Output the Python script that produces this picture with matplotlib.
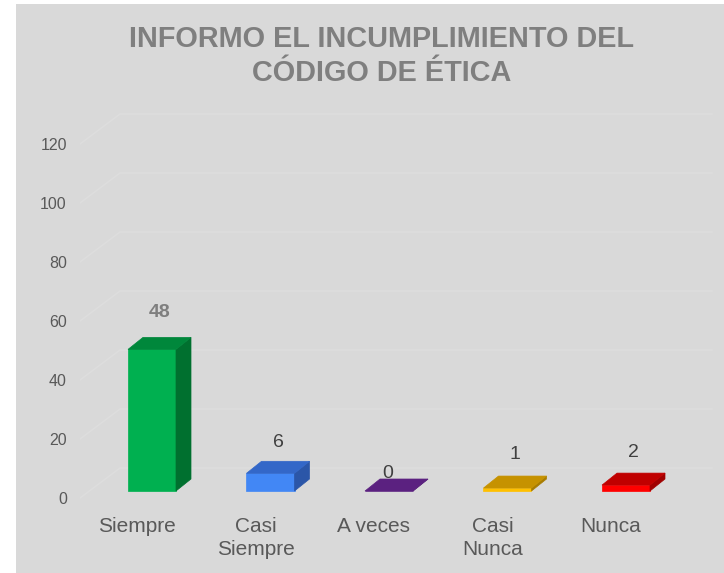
import matplotlib.pyplot as plt
from matplotlib.patches import Polygon, Rectangle

categories = ['Siempre', 'Casi\nSiempre', 'A veces', 'Casi\nNunca', 'Nunca']
values = [48, 6, 0, 1, 2]
yticks = [0, 20, 40, 60, 80, 100, 120]
title = 'INFORMO EL INCUMPLIMIENTO DEL\nCÓDIGO DE ÉTICA'

# front / top / side colours of each column
front_colors = ['#00b050', '#4287f5', '#5b2180', '#ffc000', '#ff0000']
top_colors = ['#00873b', '#3367c8', '#5b2180', '#c69200', '#c00000']
side_colors = ['#00702f', '#2b56a8', '#4a1a6a', '#a87c00', '#a00000']

# label nudges in pixels (dx, dy above the back top edge)
label_offsets = [(0, 25), (0, 19), (-9, 6), (0, 22), (0, 21)]

plt.rcParams['font.family'] = ['Liberation Sans', 'DejaVu Sans']

PX_CAT = 118.5   # pixels per category
PX_VAL = 2.95    # pixels per value unit
px_x = lambda p: p / PX_CAT
px_y = lambda p: p / PX_VAL

floor_l, floor_r = -0.481, 4.515
wall_dx, wall_dy = px_x(40), px_y(30)
bar_sx, bar_sy = px_x(9.3), px_y(7)
bar_dx, bar_dy = px_x(15), px_y(12)
bar_left, bar_w = px_x(-18.3), px_x(48)

fig = plt.figure(figsize=(7.24, 5.73), dpi=100)
fig.patch.set_facecolor('white')
fig.add_artist(Rectangle((16 / 724, 0), 1, 1 - 4 / 573, transform=fig.transFigure,
                         facecolor='#d9d9d9', edgecolor='none', zorder=-10))

ax = fig.add_axes([80 / 724, (573 - 505) / 573, 640 / 724, 405 / 573])
ax.set_facecolor('none')
ax.set_xlim(px_x(80 - 137), px_x(720 - 137))
ax.set_ylim(px_y(498 - 505), px_y(498 - 100))
for s in ax.spines.values():
    s.set_visible(False)

# perspective gridlines: floor edge -> back wall
for v in yticks:
    ax.plot([floor_l, floor_l + wall_dx, floor_r + wall_dx], [v, v + wall_dy, v + wall_dy],
            color='#dedede', lw=1, zorder=1, solid_joinstyle='miter')

for i, v in enumerate(values):
    x0 = i + bar_left + bar_sx
    x1 = x0 + bar_w
    y0 = bar_sy
    y1 = y0 + v
    ax.add_patch(Polygon([(x0, y0), (x1, y0), (x1, y1), (x0, y1)],
                         facecolor=front_colors[i], edgecolor=front_colors[i], lw=0.5, zorder=3))
    ax.add_patch(Polygon([(x1, y0), (x1 + bar_dx, y0 + bar_dy), (x1 + bar_dx, y1 + bar_dy), (x1, y1)],
                         facecolor=side_colors[i], edgecolor=side_colors[i], lw=0.5, zorder=3))
    ax.add_patch(Polygon([(x0, y1), (x1, y1), (x1 + bar_dx, y1 + bar_dy), (x0 + bar_dx, y1 + bar_dy)],
                         facecolor=top_colors[i], edgecolor=top_colors[i], lw=0.5, zorder=3))
    cx = (x0 + x1 + bar_dx) / 2
    dx, dy = label_offsets[i]
    bold = i == 0
    ax.annotate(str(v), (cx, y1 + bar_dy), xytext=(dx * 0.72, dy * 0.72), textcoords='offset points',
                ha='center', va='center', fontsize=14,
                fontweight='bold' if bold else 'normal',
                color='#7f7f7f' if bold else '#404040', zorder=4)

ax.set_yticks(yticks)
ax.set_yticklabels([str(t) for t in yticks], fontsize=11.5, color='#595959')
ax.set_xticks(range(len(categories)))
ax.set_xticklabels(categories, fontsize=15, color='#595959', linespacing=1.25)
ax.tick_params(axis='both', length=0)
ax.tick_params(axis='y', pad=9.5)
ax.tick_params(axis='x', pad=8.5)

fig.text(382 / 724, 1 - 56 / 573, title, ha='center', va='center', fontsize=20.8,
         fontweight='bold', color='#7f7f7f', linespacing=1.25)

fig.savefig('out.png', dpi=100)
